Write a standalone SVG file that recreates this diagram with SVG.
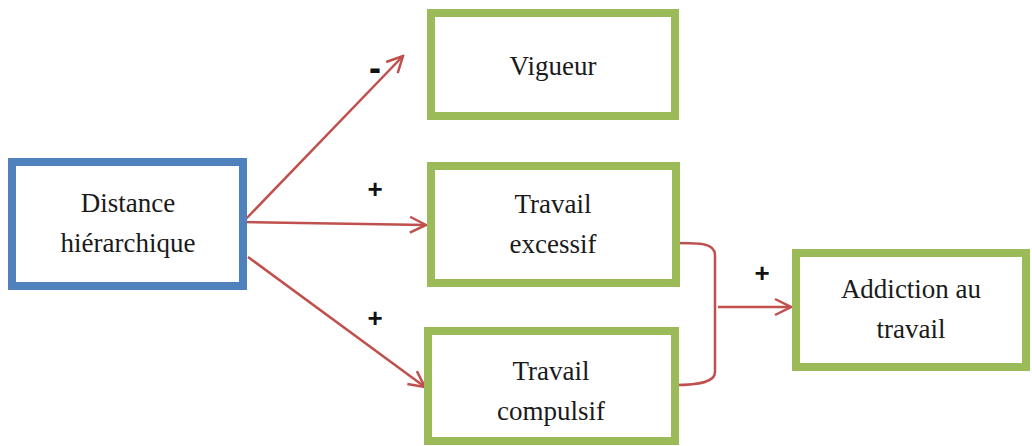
<svg xmlns="http://www.w3.org/2000/svg" width="1032" height="446" viewBox="0 0 1032 446">
<defs>
<style>
.box{fill:#fff;stroke-width:8}
.blue{stroke:#4F81BD}
.green{stroke:#9BBB59}
.t{font-size:27px;fill:#1a1a1a;text-anchor:middle}
.sign{font-family:'Liberation Sans',Arial,sans-serif;font-size:26px;font-weight:bold;fill:#111;text-anchor:middle}
.c{fill:none;stroke:#C0504D;stroke-width:2.5}
</style>
<marker id="ah" viewBox="0 0 20 20" refX="18" refY="10" markerWidth="20" markerHeight="20" markerUnits="userSpaceOnUse" orient="auto">
<path d="M2,2 L18,10 L2,18" fill="none" stroke="#C0504D" stroke-width="2.5"/>
</marker>
</defs>
<g id="connectors">
<path class="c" d="M243,222 L403,56" marker-end="url(#ah)"/>
<path class="c" d="M243,222 L426,225" marker-end="url(#ah)"/>
<path class="c" d="M248,257 L425,387" marker-end="url(#ah)"/>
<path class="c" d="M675,243 C700,243 715,243 715,255 L715,372 C715,382 700,385 675,385"/>
<path class="c" d="M718,307 L791,307" marker-end="url(#ah)"/>
<text class="sign" x="375" y="80" style="font-size:36px">-</text>
<text class="sign" x="375" y="198">+</text>
<text class="sign" x="375" y="327">+</text>
<text class="sign" x="762" y="282">+</text>
</g>
<g font-family="Liberation Serif, Tinos, Times New Roman, DejaVu Serif, serif">
<g id="distance">
<rect class="box blue" x="12" y="162" width="231" height="124"/>
<text class="t" x="128" y="212">Distance</text>
<text class="t" x="128" y="252">hiérarchique</text>
</g>
<g id="vigueur">
<rect class="box green" x="431" y="13" width="244" height="103"/>
<text class="t" x="553" y="75">Vigueur</text>
</g>
<g id="excessif">
<rect class="box green" x="431" y="166" width="245" height="117"/>
<text class="t" x="553" y="213">Travail</text>
<text class="t" x="553" y="253">excessif</text>
</g>
<g id="compulsif">
<rect class="box green" x="428" y="331" width="247" height="110"/>
<text class="t" x="551" y="380">Travail</text>
<text class="t" x="551" y="420">compulsif</text>
</g>
<g id="addiction">
<rect class="box green" x="796" y="253" width="230" height="114"/>
<text class="t" x="911" y="298">Addiction au</text>
<text class="t" x="911" y="338">travail</text>
</g>
</g>
</svg>
